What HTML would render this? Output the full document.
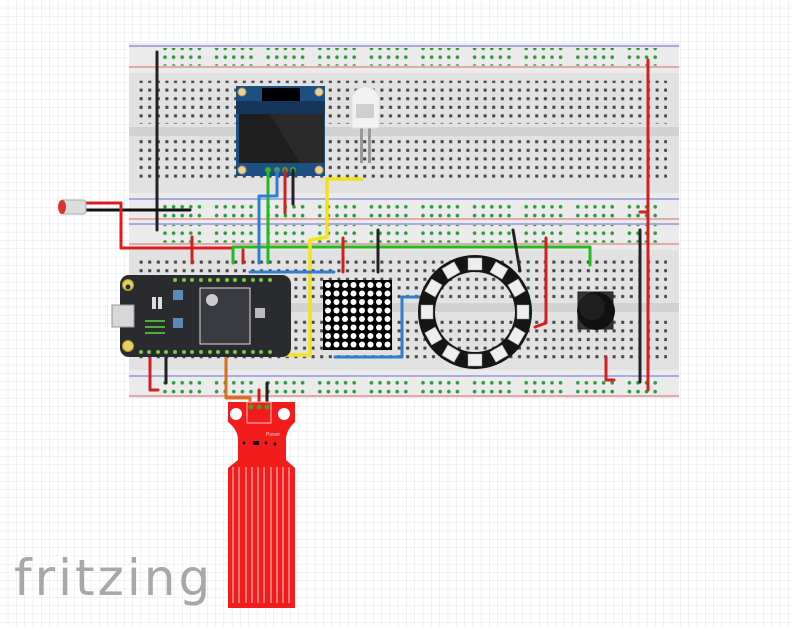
<!DOCTYPE html>
<html><head><meta charset="utf-8"><style>
html,body{margin:0;padding:0;background:#fff}
svg{display:block}
</style></head><body>
<svg width="792" height="627" viewBox="0 0 792 627" xmlns="http://www.w3.org/2000/svg">
<defs>
<pattern id="grid" width="8.3" height="8.3" patternUnits="userSpaceOnUse">
<path d="M8.3 0V8.3H0" fill="none" stroke="#d8dfe8" stroke-width="0.8"/>
</pattern>
<pattern id="holes" x="137" y="0" width="8.6" height="8.6" patternUnits="userSpaceOnUse">
<rect x="2.6" y="2.6" width="3" height="3" fill="#444"/>
</pattern>
<pattern id="rail" x="161" y="0" width="51.6" height="8.8" patternUnits="userSpaceOnUse">
<circle cx="4" cy="4.4" r="1.8" fill="#2a9a3a"/><circle cx="12.6" cy="4.4" r="1.8" fill="#2a9a3a"/><circle cx="21.2" cy="4.4" r="1.8" fill="#2a9a3a"/><circle cx="29.8" cy="4.4" r="1.8" fill="#2a9a3a"/><circle cx="38.4" cy="4.4" r="1.8" fill="#2a9a3a"/>
</pattern>
</defs>
<rect width="792" height="627" fill="#fff"/>
<rect width="792" height="627" fill="url(#grid)"/>

<rect x="129" y="43" width="550" height="355" fill="#e2e2e2"/>
<rect x="129" y="43" width="550" height="30" fill="#ebebeb"/>
<rect x="129" y="193" width="550" height="57" fill="#ebebeb"/>
<rect x="129" y="370" width="550" height="28" fill="#ebebeb"/>
<rect x="129" y="127" width="550" height="9" fill="#d2d2d2"/>
<rect x="129" y="303" width="550" height="9" fill="#d2d2d2"/>
<g stroke-width="1">
<line x1="129" y1="46" x2="679" y2="46" stroke="#6a6ad8"/>
<line x1="129" y1="67" x2="679" y2="67" stroke="#d86a6a"/>
<line x1="129" y1="199" x2="679" y2="199" stroke="#6a6ad8"/>
<line x1="129" y1="219" x2="679" y2="219" stroke="#d86a6a"/>
<line x1="129" y1="224" x2="679" y2="224" stroke="#6a6ad8"/>
<line x1="129" y1="244" x2="679" y2="244" stroke="#d86a6a"/>
<line x1="129" y1="376" x2="679" y2="376" stroke="#6a6ad8"/>
<line x1="129" y1="396" x2="679" y2="396" stroke="#d86a6a"/>
</g>
<rect x="161" y="48" width="500" height="17.6" fill="url(#rail)"/>
<rect x="161" y="200" width="500" height="17.6" fill="url(#rail)"/>
<rect x="161" y="225" width="500" height="17.6" fill="url(#rail)"/>
<rect x="161" y="378" width="500" height="17.6" fill="url(#rail)"/>
<rect x="137" y="80.7" width="530" height="43" fill="url(#holes)"/>
<rect x="137" y="140" width="530" height="43" fill="url(#holes)"/>
<rect x="137" y="258.5" width="530" height="43" fill="url(#holes)"/>
<rect x="137" y="318" width="530" height="43" fill="url(#holes)"/>

<rect x="236" y="86" width="89" height="90" fill="#1d4f82"/>
<rect x="262" y="88" width="38" height="13" fill="#000"/>
<rect x="236" y="101" width="89" height="13" fill="#16355a"/>
<rect x="239" y="114" width="85" height="49" fill="#1e1e1e"/>
<path d="M270 114 L324 114 L324 163 L300 163 Z" fill="#2a2a2a"/>
<g fill="#e6d39a" stroke="#b89a55"><circle cx="242" cy="92" r="4"/><circle cx="319" cy="92" r="4"/><circle cx="242" cy="170" r="4"/><circle cx="319" cy="170" r="4"/></g>
<g fill="#d8c88a" stroke="#2a9a3a" stroke-width="1.5"><circle cx="268" cy="170" r="2.5"/><circle cx="277" cy="170" r="2.5"/><circle cx="285" cy="170" r="2.5"/><circle cx="293" cy="170" r="2.5"/></g>

<rect x="360" y="125" width="3" height="38" fill="#999"/>
<rect x="368" y="125" width="3" height="38" fill="#999"/>
<path d="M352 128 L352 95 Q365 78 379 95 L379 128 Z" fill="#f2f2f2" stroke="#ddd"/>
<rect x="356" y="104" width="18" height="14" fill="#cfcfcf"/>

<g fill="none" stroke-width="3" stroke-linejoin="round" stroke-linecap="round">
<path d="M157 52 V230" stroke="#222"/>
<path d="M86 210 H190" stroke="#111"/>
<path d="M86 203 H121 V248 H232" stroke="#e01b1b"/>
<path d="M192 237 V263" stroke="#d02020"/>
<path d="M243 250 V263" stroke="#d02020"/>
<path d="M233 263 V247 H590 V265" stroke="#22bb22"/>
<path d="M268 170 V263" stroke="#22bb22"/>
<path d="M277 170 V196 H259 V263" stroke="#2f7fd0"/>
<path d="M285 170 V213" stroke="#d02020"/>
<path d="M293 170 V204" stroke="#222"/>
<path d="M362 179 H327 V237 L310 240 V355 H233" stroke="#f2e21e" stroke-width="3.5"/>
<path d="M250 272 H334" stroke="#2f7fd0"/>
<path d="M343 238 V272" stroke="#d02020"/>
<path d="M378 230 V272" stroke="#222"/>
<path d="M335 357 H402 V297 H420" stroke="#2f7fd0"/>
<path d="M226 355 V398 H250 V410" stroke="#d87020"/>
<path d="M150 357 V390 H158" stroke="#d02020"/>
<path d="M166 357 V383" stroke="#222"/>
<path d="M259 390 V410" stroke="#d02020"/>
<path d="M267 383 V410" stroke="#222"/>
<path d="M513 230 L520 271" stroke="#222"/>
<path d="M546 238 V323 L535 327" stroke="#d02020"/>
<path d="M648 60 V390" stroke="#d02020"/>
<path d="M640 212 H648" stroke="#d02020"/>
<path d="M640 230 V382" stroke="#222"/>
<path d="M606 357 V380 H614" stroke="#d02020"/>
</g>

<rect x="60" y="200" width="26" height="14" rx="3" fill="#ddd" stroke="#aaa"/>
<ellipse cx="62" cy="207" rx="4" ry="7" fill="#d33"/>

<rect x="120" y="275" width="171" height="82" rx="9" fill="#2a2b2f"/>
<rect x="112" y="305" width="22" height="22" fill="#d8d8d8" stroke="#999"/>
<circle cx="128" cy="285" r="5.5" fill="#e8d060" stroke="#b09a30"/><circle cx="128" cy="287" r="2.5" fill="#2a2b2f"/>
<circle cx="128" cy="346" r="5.5" fill="#e8d060" stroke="#b09a30"/>
<rect x="173" y="290" width="10" height="10" fill="#5a8ab8"/><rect x="173" y="318" width="10" height="10" fill="#5a8ab8"/>
<rect x="200" y="288" width="50" height="56" fill="#3a3b40" stroke="#ddd"/>
<circle cx="212" cy="300" r="6" fill="#ccc"/>
<rect x="255" y="308" width="10" height="10" fill="#bbb"/>
<rect x="152" y="297" width="4" height="12" fill="#ddd"/><rect x="158" y="297" width="4" height="12" fill="#ddd"/>
<g fill="#4fae3a"><rect x="145" y="320" width="20" height="2"/><rect x="145" y="326" width="20" height="2"/><rect x="145" y="332" width="20" height="2"/></g>
<g fill="#7ac943">
<circle cx="175" cy="280" r="2"/><circle cx="184" cy="280" r="2"/><circle cx="192" cy="280" r="2"/><circle cx="201" cy="280" r="2"/><circle cx="210" cy="280" r="2"/><circle cx="218" cy="280" r="2"/><circle cx="227" cy="280" r="2"/><circle cx="235" cy="280" r="2"/><circle cx="244" cy="280" r="2"/><circle cx="253" cy="280" r="2"/><circle cx="261" cy="280" r="2"/><circle cx="270" cy="280" r="2"/>
<circle cx="141" cy="352" r="2"/><circle cx="149" cy="352" r="2"/><circle cx="158" cy="352" r="2"/><circle cx="166" cy="352" r="2"/><circle cx="175" cy="352" r="2"/><circle cx="184" cy="352" r="2"/><circle cx="192" cy="352" r="2"/><circle cx="201" cy="352" r="2"/><circle cx="210" cy="352" r="2"/><circle cx="218" cy="352" r="2"/><circle cx="227" cy="352" r="2"/><circle cx="235" cy="352" r="2"/><circle cx="244" cy="352" r="2"/><circle cx="253" cy="352" r="2"/><circle cx="261" cy="352" r="2"/><circle cx="270" cy="352" r="2"/>
</g>

<rect x="323" y="280" width="69" height="70" fill="#000"/>
<g fill="#fff" id="mrow">
<circle cx="328" cy="285" r="3"/><circle cx="336.5" cy="285" r="3"/><circle cx="345" cy="285" r="3"/><circle cx="353.5" cy="285" r="3"/><circle cx="362" cy="285" r="3"/><circle cx="370.5" cy="285" r="3"/><circle cx="379" cy="285" r="3"/><circle cx="387.5" cy="285" r="3"/>
</g>
<use href="#mrow" y="8.5"/><use href="#mrow" y="17"/><use href="#mrow" y="25.5"/><use href="#mrow" y="34"/><use href="#mrow" y="42.5"/><use href="#mrow" y="51"/><use href="#mrow" y="59.5"/>

<circle cx="475" cy="312" r="48.5" fill="none" stroke="#151515" stroke-width="17"/>
<g fill="#eee" stroke="#999" stroke-width="0.5">
<rect x="468" y="258" width="14" height="12" transform="rotate(0 475 312)"/>
<rect x="468" y="258" width="14" height="12" transform="rotate(30 475 312)"/>
<rect x="468" y="258" width="14" height="12" transform="rotate(60 475 312)"/>
<rect x="468" y="258" width="14" height="12" transform="rotate(90 475 312)"/>
<rect x="468" y="258" width="14" height="12" transform="rotate(120 475 312)"/>
<rect x="468" y="258" width="14" height="12" transform="rotate(150 475 312)"/>
<rect x="468" y="258" width="14" height="12" transform="rotate(180 475 312)"/>
<rect x="468" y="258" width="14" height="12" transform="rotate(210 475 312)"/>
<rect x="468" y="258" width="14" height="12" transform="rotate(240 475 312)"/>
<rect x="468" y="258" width="14" height="12" transform="rotate(270 475 312)"/>
<rect x="468" y="258" width="14" height="12" transform="rotate(300 475 312)"/>
<rect x="468" y="258" width="14" height="12" transform="rotate(330 475 312)"/>
</g>

<rect x="578" y="292" width="35" height="37" fill="#333" stroke="#222"/>
<circle cx="596" cy="311" r="19" fill="#111"/>
<circle cx="592" cy="307" r="13" fill="#1e1e1e"/>

<path d="M228 402 H295 V422 Q286 430 286 440 V460 L295 468 V608 H228 V468 L238 460 V440 Q238 430 228 422 Z" fill="#f31c1c"/>
<circle cx="236" cy="414" r="6" fill="#fff"/><circle cx="284" cy="414" r="6" fill="#fff"/>
<rect x="247" y="402" width="24" height="21" fill="none" stroke="#fbb" stroke-width="1"/>
<g fill="#4a9a30"><circle cx="251" cy="407" r="2.5"/><circle cx="259" cy="407" r="2.5"/><circle cx="267" cy="407" r="2.5"/></g>
<text x="266" y="436" font-family="Liberation Sans, sans-serif" font-size="5" fill="#fcc">Power</text>
<g fill="#111"><rect x="253" y="441" width="6" height="4"/><circle cx="244" cy="443" r="1.5"/><circle cx="266" cy="443" r="1.5"/><circle cx="275" cy="444" r="1.5"/></g>
<g stroke="#fbd0d0" stroke-width="1">
<line x1="233" y1="467" x2="233" y2="603"/><line x1="239" y1="467" x2="239" y2="603"/><line x1="246" y1="467" x2="246" y2="603"/><line x1="252" y1="467" x2="252" y2="603"/><line x1="258" y1="467" x2="258" y2="603"/><line x1="264" y1="467" x2="264" y2="603"/><line x1="271" y1="467" x2="271" y2="603"/><line x1="277" y1="467" x2="277" y2="603"/><line x1="283" y1="467" x2="283" y2="603"/><line x1="289" y1="467" x2="289" y2="603"/>
</g>

<text x="14" y="595" font-family="DejaVu Sans, Liberation Sans, sans-serif" font-size="50" fill="#a8a8a8" letter-spacing="3">fritzing</text>
</svg>
</body></html>
